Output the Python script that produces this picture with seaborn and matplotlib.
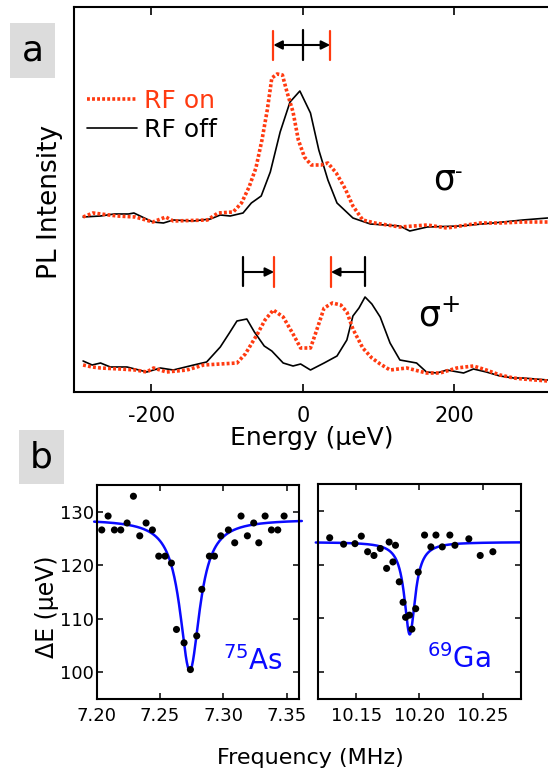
import numpy as np
import pandas as pd
import matplotlib
matplotlib.use("Agg")
import matplotlib.pyplot as plt
from matplotlib.patches import Rectangle
from matplotlib.lines import Line2D
import seaborn as sns

# --- panel a: PL spectra (energy in ueV, intensity in a.u.) ---
e_minus_off = [-290, -267, -249, -230, -223, -198, -184, -171, -145, -122, -109, -96, -79, -68, -55,
               -43, -30, -17, -4, 10, 21, 33, 45, 66, 89, 128, 141, 164, 207, 251, 290, 323]
i_minus_off = [175, 176, 178, 178, 179, 170, 169, 172, 171, 173, 177, 176, 179, 189, 196,
               220, 260, 290, 301, 279, 242, 212, 189, 174, 168, 166, 161, 165, 166, 169, 172, 174]

e_minus_on = [-290, -277, -245, -221, -198, -181, -171, -126, -112, -92, -81, -71, -62, -54, -47,
              -41, -34, -27, -21, -13, -6, 2, 11, 24, 33, 44, 56, 66, 79, 95, 128, 164, 190, 216,
              234, 260, 290, 323]
i_minus_on = [175, 179, 176, 175, 170, 175, 171, 172, 179, 180, 189, 205, 224, 252, 282,
              314, 318, 317, 300, 280, 252, 235, 227, 227, 229, 219, 203, 186, 172, 169, 165, 167, 164, 167,
              169, 169, 170, 170]

e_plus_off = [-290, -278, -267, -254, -232, -206, -188, -171, -144, -127, -109, -97, -87, -74, -64,
              -51, -41, -26, -13, -3, 10, 28, 45, 58, 66, 74, 82, 91, 102, 115, 128, 150, 163, 177,
              190, 212, 225, 242, 260, 278, 290, 323]
i_plus_off = [31, 27, 29, 25, 25, 20, 24, 22, 27, 30, 45, 59, 71, 73, 60,
              46, 41, 29, 26, 28, 22, 29, 36, 52, 76, 84, 95, 88, 75, 49, 32, 29, 20, 19,
              22, 19, 23, 20, 16, 14, 14, 12]

e_plus_on = [-290, -278, -267, -241, -221, -206, -197, -180, -153, -131, -109, -87, -76, -60, -50,
             -39, -26, -13, -3, 10, 16, 28, 39, 50, 58, 66, 79, 91, 102, 115, 137, 163, 181, 203,
             225, 242, 260, 278, 290, 323]
i_plus_on = [27, 25, 24, 23, 22, 20, 24, 20, 22, 27, 28, 29, 38, 58, 72,
             82, 75, 58, 44, 44, 57, 84, 89, 87, 80, 63, 44, 34, 28, 22, 24, 19, 19, 24,
             26, 22, 17, 14, 13, 11]

# peak positions marked by the arrows (ueV)
peak_minus_off = 0
peaks_minus_on = [-39, 36]
peaks_plus_off = [-79, 82]
peaks_plus_on = [-38, 37]

# --- panel b: splitting vs RF frequency ---
as_freq = [7.204, 7.209, 7.214, 7.219, 7.224, 7.229, 7.234, 7.239, 7.244, 7.249, 7.254, 7.259,
           7.263, 7.269, 7.274, 7.279, 7.283, 7.289, 7.293, 7.298, 7.304, 7.309, 7.314, 7.319,
           7.324, 7.328, 7.333, 7.338, 7.343, 7.348]
as_de = [126.6, 129.2, 126.6, 126.6, 127.9, 132.9, 125.5, 127.9, 126.6, 121.7, 121.7, 120.4,
         108.0, 105.5, 100.5, 106.8, 115.5, 121.7, 121.7, 125.5, 126.6, 124.2, 129.2, 125.5,
         127.9, 124.2, 129.2, 126.6, 126.6, 129.2]

ga_freq = [10.129, 10.140, 10.149, 10.154, 10.159, 10.164, 10.169, 10.174, 10.176, 10.179,
           10.181, 10.184, 10.187, 10.189, 10.192, 10.194, 10.197, 10.199, 10.204, 10.209,
           10.213, 10.218, 10.224, 10.228, 10.239, 10.248, 10.258]
ga_de = [125.0, 123.8, 123.9, 125.3, 122.4, 121.7, 123.0, 119.3, 124.2, 120.5,
         123.6, 116.8, 113.0, 110.2, 110.6, 108.0, 111.8, 118.6, 125.5, 123.3,
         125.5, 123.3, 125.5, 123.6, 124.8, 121.7, 122.4]

# Lorentzian fit parameters: centre, half width, depth, baseline
as_fit = (7.2735, 0.0096, 28.3, 128.6)
ga_fit = (10.1923, 0.0052, 17.2, 124.2)

RED = '#ff3a10'
BLUE = '#0a0aff'


def lorentz_dip(x, p):
    x0, g, depth, base = p
    return base - depth / (1 + ((x - x0) / g) ** 2)


sns.set_style("ticks")
plt.rcParams['font.family'] = ['DejaVu Sans']
plt.rcParams['mathtext.fontset'] = 'dejavusans'
for k in ['text.color', 'axes.labelcolor', 'xtick.color', 'ytick.color', 'axes.edgecolor']:
    plt.rcParams[k] = 'black'

W, H = 548, 777
fig = plt.figure(figsize=(W / 100, H / 100), dpi=100)


def box(x0, y0, x1, y1):
    return [x0 / W, 1 - y1 / H, (x1 - x0) / W, (y1 - y0) / H]


# ---------------- panel a ----------------
ax = fig.add_axes(box(74, 7, 548, 392))
sns.lineplot(x=e_minus_off, y=i_minus_off, ax=ax, color='black', lw=1.2, sort=False, estimator=None)
sns.lineplot(x=e_plus_off, y=i_plus_off, ax=ax, color='black', lw=1.2, sort=False, estimator=None)
sns.lineplot(x=e_minus_on, y=i_minus_on, ax=ax, color=RED, lw=2.6, sort=False, estimator=None,
             linestyle=(0, (0.8, 0.6)))
sns.lineplot(x=e_plus_on, y=i_plus_on, ax=ax, color=RED, lw=2.6, sort=False, estimator=None,
             linestyle=(0, (0.8, 0.6)))
ax.set_xlim(-302, 323.4)
ax.set_ylim(0, 385)
ax.set_xticks([-200, 0, 200])
ax.set_xticklabels(['-200', '0', '200'])
ax.set_yticks([])
ax.tick_params(axis='x', direction='in', top=True, length=6, width=1.2, labelsize=15, pad=10)
for s in ['left', 'bottom', 'top']:
    ax.spines[s].set_linewidth(1.5)
ax.spines['right'].set_visible(False)

# arrows, sigma-
arr = dict(arrowstyle='<|-|>', color='black', lw=1.5, mutation_scale=13, shrinkA=0, shrinkB=0)
ax.annotate('', xy=(peaks_minus_on[0], 347), xytext=(peaks_minus_on[1], 347), arrowprops=arr)
for xe in peaks_minus_on:
    ax.plot([xe, xe], [332, 361], color=RED, lw=1.6)
ax.plot([peak_minus_off, peak_minus_off], [332, 362], color='black', lw=1.6)
# arrows, sigma+
arr1 = dict(arrowstyle='-|>', color='black', lw=1.5, mutation_scale=13, shrinkA=0, shrinkB=0)
ax.annotate('', xy=(peaks_plus_on[0], 120), xytext=(peaks_plus_off[0], 120), arrowprops=arr1)
ax.annotate('', xy=(peaks_plus_on[1], 120), xytext=(peaks_plus_off[1], 120), arrowprops=arr1)
for xe in peaks_plus_off:
    ax.plot([xe, xe], [106, 135], color='black', lw=1.6)
for xe in peaks_plus_on:
    ax.plot([xe, xe], [105, 135], color=RED, lw=1.6)

ax.text(186, 212, 'σ', fontsize=25, ha='center', va='center')
ax.text(205, 220, '-', fontsize=15, ha='center', va='center')
ax.text(180, 76, 'σ$^{+}$', fontsize=25, ha='center', va='center')

handles = [Line2D([], [], color=RED, lw=2.6, linestyle=(0, (0.8, 0.6))),
           Line2D([], [], color='black', lw=1.2)]
ax.legend(handles, ['RF on', 'RF off'], loc='upper left', bbox_to_anchor=(0.027, 0.787),
          frameon=False, fontsize=18, handlelength=2.0, handletextpad=0.3,
          labelspacing=0.18, borderpad=0, borderaxespad=0, labelcolor=[RED, 'black'])

fig.text(312 / W, 1 - 438 / H, 'Energy (μeV)', fontsize=18, ha='center', va='center')
fig.text(50 / W, 1 - 202 / H, 'PL Intensity', fontsize=19, ha='center', va='center', rotation=90)

# ---------------- panel b ----------------
axl = fig.add_axes(box(96.7, 485, 299.3, 699))
axr = fig.add_axes(box(318.3, 484, 520.7, 699), sharey=axl)

xs = np.linspace(7.198, 7.362, 400)
sns.lineplot(x=xs, y=lorentz_dip(xs, as_fit), ax=axl, color=BLUE, lw=1.8, clip_on=False)
sns.scatterplot(x=as_freq, y=as_de, ax=axl, color='black', s=26, edgecolor='none', zorder=3)
xg = np.linspace(10.118, 10.28, 400)
sns.lineplot(x=xg, y=lorentz_dip(xg, ga_fit), ax=axr, color=BLUE, lw=1.8, clip_on=False)
sns.scatterplot(x=ga_freq, y=ga_de, ax=axr, color='black', s=26, edgecolor='none', zorder=3)

axl.set_xlim(7.20, 7.36)
axl.set_xticks([7.20, 7.25, 7.30, 7.35])
axl.set_xticklabels(['7.20', '7.25', '7.30', '7.35'])
axr.set_xlim(10.12, 10.28)
axr.set_xticks([10.15, 10.20, 10.25])
axr.set_xticklabels(['10.15', '10.20', '10.25'])
axl.set_ylim(95, 135)
axl.set_yticks([100, 110, 120, 130])
for a in (axl, axr):
    a.tick_params(direction='in', top=True, right=True, length=4, width=1.1, labelsize=13, pad=6)
    for s in a.spines.values():
        s.set_linewidth(1.5)
axl.tick_params(axis='y', pad=2)
axr.tick_params(axis='y', labelleft=False)

axl.text(0.92, 0.175, '$^{75}$As', transform=axl.transAxes, color=BLUE, fontsize=20,
         ha='right', va='center')
axr.text(0.85, 0.185, '$^{69}$Ga', transform=axr.transAxes, color=BLUE, fontsize=20,
         ha='right', va='center')

fig.text(310 / W, 1 - 758 / H, 'Frequency (MHz)', fontsize=16, ha='center', va='center')
fig.text(47 / W, 1 - 607 / H, 'ΔE (μeV)', fontsize=17, ha='center', va='center', rotation=90)

# panel letters
for (x0, y0, x1, y1, lab) in [(10, 23, 55, 78, 'a'), (19, 430, 64, 484, 'b')]:
    fig.patches.append(Rectangle((x0 / W, 1 - y1 / H), (x1 - x0) / W, (y1 - y0) / H,
                                 transform=fig.transFigure, facecolor='#dcdcdc', edgecolor='none'))
    fig.text((x0 + x1) / 2 / W, 1 - (y0 + y1) / 2 / H, lab, fontsize=26, ha='center', va='center')

fig.savefig('out.png', dpi=100)
